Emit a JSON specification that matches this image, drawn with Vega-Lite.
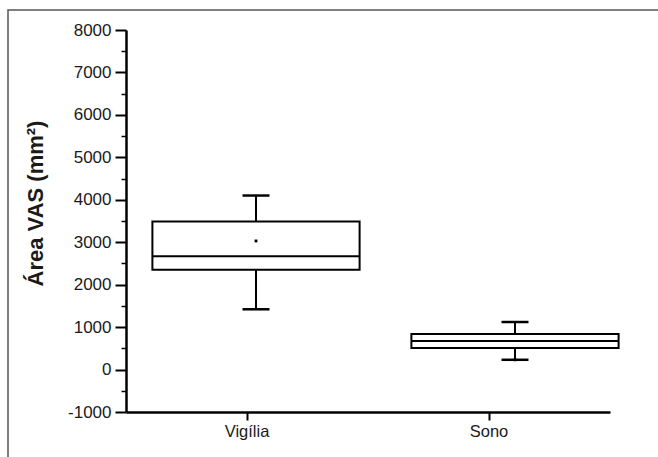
{
  "$schema": "https://vega.github.io/schema/vega-lite/v6.json",
  "width": 670,
  "height": 450,
  "autosize": {"type": "none"},
  "padding": {"left": 8, "top": 10, "right": 0, "bottom": 0},
  "background": "#ffffff",
  "config": {"view": {"stroke": "#555555", "strokeWidth": 1.5}, "font": "Liberation Sans"},
  "datasets": {
    "boxes": [
      {"group": "Vigília", "min": 1420, "q1": 2350, "median": 2670, "q3": 3490, "max": 4100},
      {"group": "Sono", "min": 230, "q1": 510, "median": 670, "q3": 840, "max": 1120}
    ],
    "points": [
      {"group": "Vigília", "value": 3030},
      {"group": "Sono", "value": 230}
    ]
  },
  "layer": [
    {
      "data": {"name": "boxes"},
      "mark": {"type": "tick", "opacity": 0},
      "encoding": {
        "x": {
          "field": "group", "type": "nominal", "sort": ["Vigília", "Sono"],
          "scale": {"type": "band", "range": [118, 602], "paddingInner": 0, "paddingOuter": 0},
          "axis": {
            "orient": "bottom", "offset": -48, "title": null, "labelAngle": 0,
            "domainColor": "#000000", "domainWidth": 2.5,
            "tickColor": "#000000", "tickWidth": 2, "tickSize": 8,
            "labelFont": "Liberation Sans", "labelFontSize": 16.5, "labelColor": "#1a1a1a", "labelPadding": 3,
            "grid": false
          }
        },
        "y": {
          "field": "median", "type": "quantitative",
          "scale": {"domain": [-1000, 8000], "range": [402, 20], "nice": false, "zero": false},
          "axis": {
            "orient": "left", "offset": -118, "labelExpr": "'' + datum.value",
            "values": [-1000, 0, 1000, 2000, 3000, 4000, 5000, 6000, 7000, 8000],
            "title": "Área VAS (mm²)", "titleFont": "Liberation Sans", "titleFontSize": 22, "titleFontWeight": "bold",
            "titleColor": "#1a1a1a", "titlePadding": 20, "titleY": 193,
            "domainColor": "#000000", "domainWidth": 2.5,
            "tickColor": "#000000", "tickWidth": 2, "tickSize": 11,
            "labelFont": "Liberation Sans", "labelFontSize": 17, "labelColor": "#1a1a1a", "labelPadding": 4,
            "grid": false
          }
        }
      }
    },
    {
      "data": {"name": "boxes"},
      "mark": {"type": "tick", "opacity": 0},
      "encoding": {
        "x": {"field": "group", "type": "nominal", "axis": null},
        "y": {
          "field": "median", "type": "quantitative",
          "scale": {"domain": [-1000, 8000], "range": [402, 20], "nice": false, "zero": false},
          "axis": {
            "orient": "left", "offset": -118,
            "values": [-500, 500, 1500, 2500, 3500, 4500, 5500, 6500, 7500],
            "title": null, "labels": false, "domain": false,
            "tickColor": "#000000", "tickWidth": 1.5, "tickSize": 5, "grid": false
          }
        }
      }
    },
    {
      "layer": [
        {
          "data": {"name": "boxes"},
          "mark": {"type": "rule", "color": "#000000", "strokeWidth": 2},
          "encoding": {
            "x": {"field": "group", "type": "nominal", "sort": ["Vigília", "Sono"], "scale": {"type": "band", "range": [118.5, 636.5], "paddingInner": 0, "paddingOuter": 0}, "axis": null},
            "y": {"field": "min", "type": "quantitative", "axis": null},
            "y2": {"field": "max"}
          }
        },
        {
          "data": {"name": "boxes"},
          "mark": {"type": "bar", "fill": "#ffffff", "stroke": "#000000", "strokeWidth": 2, "width": {"band": 0.8}},
          "encoding": {
            "x": {"field": "group", "type": "nominal", "sort": ["Vigília", "Sono"], "axis": null},
            "y": {"field": "q1", "type": "quantitative", "axis": null},
            "y2": {"field": "q3"}
          }
        },
        {
          "data": {"name": "boxes"},
          "mark": {"type": "tick", "color": "#000000", "size": 207, "thickness": 2, "opacity": 1},
          "encoding": {
            "x": {"field": "group", "type": "nominal", "sort": ["Vigília", "Sono"], "axis": null},
            "y": {"field": "median", "type": "quantitative", "axis": null}
          }
        },
        {
          "data": {"name": "boxes"},
          "mark": {"type": "tick", "color": "#000000", "size": 27, "thickness": 2.5, "opacity": 1},
          "encoding": {
            "x": {"field": "group", "type": "nominal", "sort": ["Vigília", "Sono"], "axis": null},
            "y": {"field": "max", "type": "quantitative", "axis": null}
          }
        },
        {
          "data": {"name": "boxes"},
          "mark": {"type": "tick", "color": "#000000", "size": 27, "thickness": 2.5, "opacity": 1},
          "encoding": {
            "x": {"field": "group", "type": "nominal", "sort": ["Vigília", "Sono"], "axis": null},
            "y": {"field": "min", "type": "quantitative", "axis": null}
          }
        },
        {
          "data": {"name": "points"},
          "mark": {"type": "point", "shape": "square", "filled": true, "color": "#000000", "size": 8, "opacity": 1},
          "encoding": {
            "x": {"field": "group", "type": "nominal", "sort": ["Vigília", "Sono"], "axis": null},
            "y": {"field": "value", "type": "quantitative", "axis": null}
          }
        }
      ]
    }
  ],
  "resolve": {"scale": {"x": "independent"}, "axis": {"y": "independent", "x": "independent"}}
}
